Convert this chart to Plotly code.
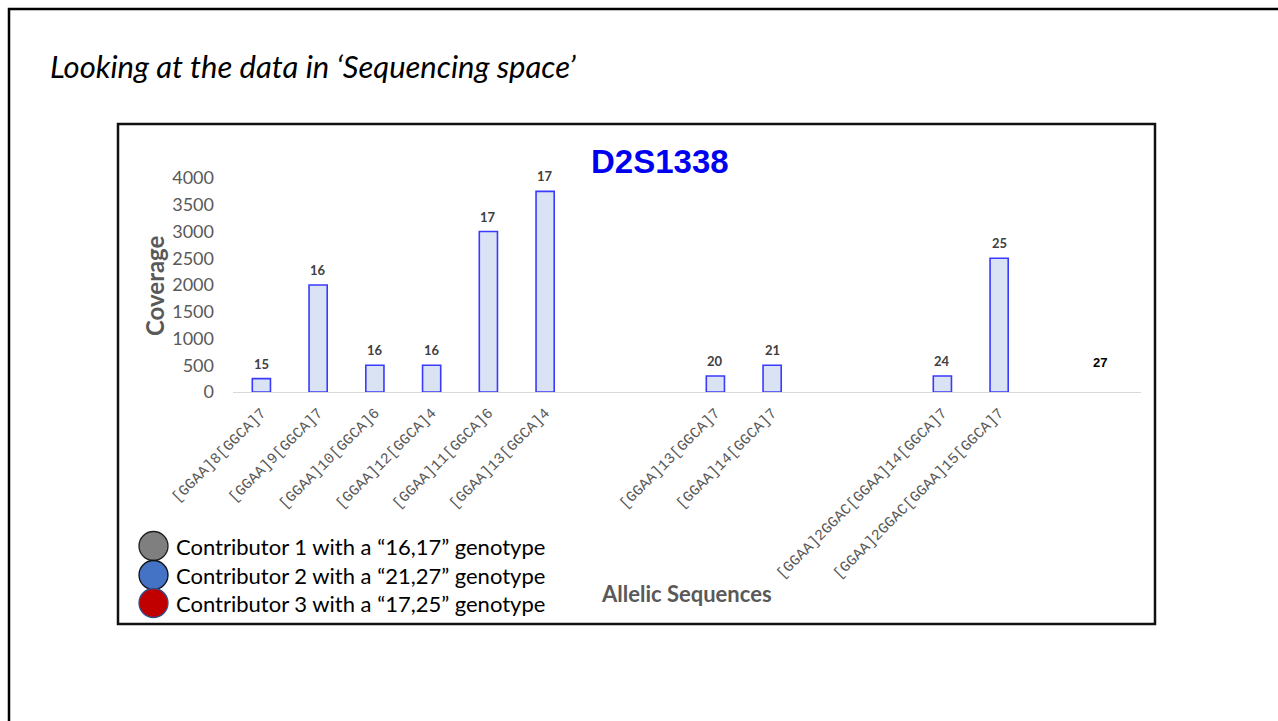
import plotly.graph_objects as go

# ---------------- data ----------------
categories = [
    "[GGAA]8[GGCA]7", "[GGAA]9[GGCA]7", "[GGAA]10[GGCA]6", "[GGAA]12[GGCA]4",
    "[GGAA]11[GGCA]6", "[GGAA]13[GGCA]4", "", "",
    "[GGAA]13[GGCA]7", "[GGAA]14[GGCA]7", "", "",
    "[GGAA]2GGAC[GGAA]14[GGCA]7", "[GGAA]2GGAC[GGAA]15[GGCA]7", "", "",
]
coverage = [250, 2000, 500, 500, 3000, 3750, None, None,
            300, 500, None, None, 300, 2500, None, None]
allele_labels = ["15", "16", "16", "16", "17", "17", "", "",
                 "20", "21", "", "", "24", "25", "", ""]
extra_label = "27"
y_ticks = [0, 500, 1000, 1500, 2000, 2500, 3000, 3500, 4000]
legend_entries = [
    ("Contributor 1 with a \u201c16,17\u201d genotype", "#7f7f7f", "#1f1f1f"),
    ("Contributor 2 with a \u201c21,27\u201d genotype", "#4472C4", "#111111"),
    ("Contributor 3 with a \u201c17,25\u201d genotype", "#C00000", "#2F528F"),
]

# ---------------- layout geometry ----------------
W, H = 1278, 721
L, R, T, B = 233, 1141, 178, 392   # plot area in pixels
PW, PH = R - L, B - T


def px(x):
    return (x - L) / PW


def py(y):
    return (B - y) / PH


xs = list(range(len(categories)))
bx = [x for x, v in zip(xs, coverage) if v is not None]
bv = [v for v in coverage if v is not None]

fig = go.Figure()
fig.add_trace(go.Bar(
    x=bx, y=bv, width=0.32,
    marker=dict(color="#DAE3F3", line=dict(color="#3a3aff", width=1.6)),
    hoverinfo="skip", showlegend=False,
))

annotations = []
for x, v, lab in zip(xs, coverage, allele_labels):
    if v is not None and lab:
        annotations.append(dict(
            x=x, y=v, xref="x", yref="y", text=f"<b>{lab}</b>", showarrow=False,
            yshift=15, yanchor="middle",
            font=dict(family="Lato", size=13, color="#404040"),
        ))
# manually placed "27" text
annotations.append(dict(
    x=len(categories) - 1, y=py(362), xref="x", yref="paper", xshift=-13,
    text=f"<b>{extra_label}</b>", showarrow=False, yanchor="middle",
    font=dict(family="Liberation Sans", size=13, color="#000000"),
))
# chart title
annotations.append(dict(
    x=px(660), y=py(161), xref="paper", yref="paper", text="<b>D2S1338</b>",
    showarrow=False, xanchor="center", yanchor="middle",
    font=dict(family="Liberation Sans", size=33, color="#0000F0"),
))
# slide heading
annotations.append(dict(
    x=px(48), y=py(66), xref="paper", yref="paper",
    text="<i>Looking at the data in \u2018Sequencing space\u2019</i>",
    showarrow=False, xanchor="left", yanchor="middle",
    font=dict(family="Lato", size=31, color="#000000"),
))
# axis titles
annotations.append(dict(
    x=px(154), y=py(286), xref="paper", yref="paper", text="<b>Coverage</b>",
    showarrow=False, textangle=-90, xanchor="center", yanchor="middle",
    font=dict(family="Lato", size=24, color="#595959"),
))
annotations.append(dict(
    x=px(686), y=py(593), xref="paper", yref="paper", text="<b>Allelic Sequences</b>",
    showarrow=False, xanchor="center", yanchor="middle",
    font=dict(family="Lato", size=22, color="#595959"),
))

shapes = [
    # slide border
    dict(type="rect", xref="paper", yref="paper", x0=px(9), x1=px(1300), y0=py(9), y1=py(760),
         line=dict(color="#000000", width=2.5), fillcolor="rgba(0,0,0,0)", layer="below"),
    # chart box
    dict(type="rect", xref="paper", yref="paper", x0=px(118), x1=px(1155), y0=py(124), y1=py(624),
         line=dict(color="#111111", width=2.5), fillcolor="rgba(0,0,0,0)", layer="below"),
]

legend_y = [546, 575, 603]
cx, rad = 153.5, 14.5
for (text, fill, edge), yy in zip(legend_entries, legend_y):
    shapes.append(dict(type="circle", xref="paper", yref="paper",
                       x0=px(cx - rad), x1=px(cx + rad), y0=py(yy + rad), y1=py(yy - rad),
                       fillcolor=fill, line=dict(color=edge, width=1.3)))
    annotations.append(dict(
        x=px(174), y=py(yy), xref="paper", yref="paper", text=text,
        showarrow=False, xanchor="left", yanchor="middle",
        font=dict(family="Lato", size=22, color="#000000"),
    ))

fig.update_layout(
    width=W, height=H,
    margin=dict(l=L, r=W - R, t=T, b=H - B, autoexpand=False),
    paper_bgcolor="white", plot_bgcolor="white",
    showlegend=False,
    annotations=annotations, shapes=shapes,
    xaxis=dict(
        range=[-0.5, len(categories) - 0.5],
        tickmode="array", tickvals=xs, ticktext=categories,
        tickangle=-45, ticks="", showgrid=False, zeroline=False,
        showline=True, linecolor="#d9d9d9", linewidth=1.2,
        tickfont=dict(family="Liberation Mono", size=15, color="#595959"),
        ticklabelstandoff=5, automargin=False, fixedrange=True,
    ),
    yaxis=dict(
        range=[0, 4000], tickmode="array", tickvals=y_ticks,
        showgrid=False, zeroline=False, showline=False, ticks="",
        tickfont=dict(family="Lato", size=18, color="#595959"),
        ticklabelstandoff=18, automargin=False, fixedrange=True,
    ),
)

fig.write_html(
    "out.html",
    config={"displayModeBar": False},
    post_script="document.body.style.margin='0px';document.body.style.overflow='hidden';",
)
